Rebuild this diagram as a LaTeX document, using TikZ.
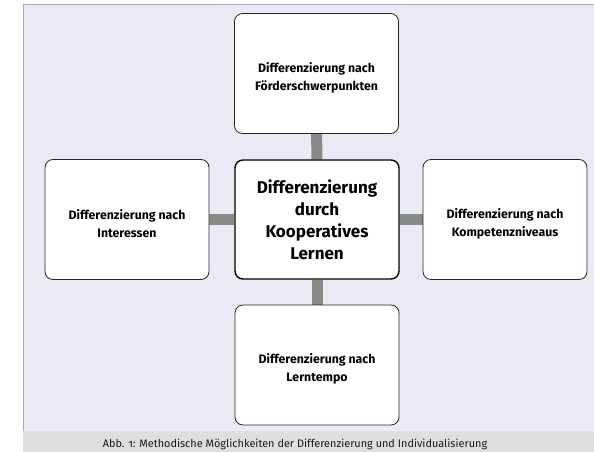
\documentclass[tikz,border=0pt]{standalone}
\usepackage{fontspec}
\setmainfont{Fira Sans}
\newfontfamily\capfont[Numbers=OldStyle]{Fira Sans}
\usetikzlibrary{backgrounds}
\definecolor{panel}{HTML}{EBE9F3}
\definecolor{panelline}{HTML}{A9A7BF}
\definecolor{capband}{HTML}{DEDEDF}
\definecolor{barcol}{HTML}{868B87}
\tikzset{
  outerbox/.style={draw=black!85, line width=0.8pt, fill=white, rounded corners=8pt,
    minimum width=164pt, minimum height=120pt, inner sep=0pt},
  boxtext/.style={align=center, inner sep=0pt, font=\fontsize{12.3}{18}\selectfont\bfseries},
  centerbox/.style={draw=black, line width=1.4pt, fill=white, rounded corners=8pt,
    minimum width=164pt, minimum height=119pt, align=center, inner sep=0pt,
    font=\fontsize{17}{22}\selectfont\bfseries},
  bar/.style={draw=barcol, line width=11pt},
  captext/.style={font=\capfont\fontsize{10.9}{12}\selectfont, text=black!90, anchor=base}
}
\begin{document}
\begin{tikzpicture}[x=1pt,y=-1pt]
\useasboundingbox (0,0) rectangle (594,452);

\node[outerbox] (top) at (316.5,73.5) {};
\node[outerbox] (left) at (127,219.5) {};
\node[centerbox] (center) at (317,219.5) {Differenzierung\\durch\\Kooperatives\\Lernen};
\node[outerbox] (right) at (505,219.5) {};
\node[outerbox] (bottom) at (317,365) {};

\node[boxtext] (toptext) at ([yshift=-4pt]top.center) {Differenzierung nach\\Förderschwerpunkten};
\node[boxtext] (lefttext) at ([yshift=-4pt]left.center) {Differenzierung nach\\Interessen};
\node[boxtext] (righttext) at ([yshift=-4pt]right.center) {Differenzierung nach\\Kompetenzniveaus};
\node[boxtext] (bottomtext) at ([yshift=-4pt]bottom.center) {Differenzierung nach\\Lerntempo};

\begin{scope}[on background layer]
\fill[white] (0,0) rectangle (594,452);
\fill[panel] (23,5) rectangle (594,431);
\draw[panelline, line width=1pt] (23,431) -- (23,5) -- (594,5);
\fill[capband] (23,431) rectangle (594,452);
\draw[bar] (top) -- (center);
\draw[bar] (left) -- (center);
\draw[bar] (right) -- (center);
\draw[bar] (bottom) -- (center);
\end{scope}

\node[captext] (caption) at (295,447) {Abb. 1: Methodische Möglichkeiten der Differenzierung und Individualisierung};
\end{tikzpicture}
\end{document}
